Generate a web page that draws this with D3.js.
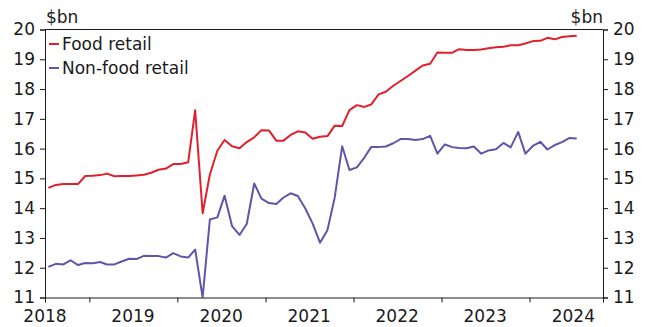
<!DOCTYPE html>
<html>
<head>
<meta charset="utf-8">
<script src="https://cdn.jsdelivr.net/npm/d3@7"></script>
<style>
  html, body { margin: 0; padding: 0; background: #fff; }
  svg { display: block; }
  text { font-family: "DejaVu Sans", sans-serif; fill: #1a1a1a; }
</style>
</head>
<body>
<svg id="chart" width="649" height="327"></svg>
<script>
// Monthly retail sales, $bn, July 2018 to July 2024
const firstMonth = "2018-07";
const foodRetail = [
  14.68, 14.78, 14.81, 14.81, 14.81, 15.08, 15.09, 15.11, 15.16, 15.07, 15.08, 15.08,
  15.10, 15.12, 15.19, 15.29, 15.33, 15.48, 15.48, 15.54, 17.29, 13.83, 15.13, 15.93,
  16.29, 16.08, 16.01, 16.22, 16.38, 16.62, 16.61, 16.26, 16.26, 16.46, 16.58, 16.54,
  16.33, 16.40, 16.42, 16.77, 16.76, 17.29, 17.46, 17.40, 17.48, 17.82, 17.91, 18.11,
  18.27, 18.44, 18.62, 18.79, 18.85, 19.23, 19.22, 19.22, 19.34, 19.31, 19.31, 19.33,
  19.37, 19.40, 19.42, 19.47, 19.47, 19.53, 19.61, 19.62, 19.72, 19.67, 19.75, 19.77,
  19.79
];
const nonFoodRetail = [
  12.03, 12.13, 12.11, 12.25, 12.09, 12.16, 12.15, 12.19, 12.11, 12.11, 12.21, 12.30,
  12.29, 12.40, 12.39, 12.39, 12.34, 12.49, 12.38, 12.34, 12.61, 11.00, 13.62, 13.69,
  14.42, 13.40, 13.10, 13.47, 14.83, 14.32, 14.17, 14.14, 14.35, 14.50, 14.41, 13.99,
  13.49, 12.84, 13.27, 14.36, 16.08, 15.28, 15.37, 15.70, 16.05, 16.05, 16.07, 16.18,
  16.32, 16.32, 16.29, 16.32, 16.43, 15.83, 16.14, 16.05, 16.02, 16.01, 16.07, 15.83,
  15.94, 15.98, 16.19, 16.04, 16.56, 15.83, 16.09, 16.23, 15.97, 16.12, 16.22, 16.36,
  16.34
];
const seriesNames = ["Food retail", "Non-food retail"];
const seriesColors = ["#e2202c", "#5e56a8"];
const yTicks = [11, 12, 13, 14, 15, 16, 17, 18, 19, 20];
const yearLabels = [2018, 2019, 2020, 2021, 2022, 2023, 2024];
const unitLabel = "$bn";

const svg = d3.select("#chart");
const plotLeft = 45, plotRight = 603, plotTop = 29.5, plotBottom = 297.5;

const x = d3.scaleUtc()
  .domain([new Date(Date.UTC(2018, 6, 1)), new Date(Date.UTC(2024, 10, 1))])
  .range([plotLeft, plotRight]);
const y = d3.scaleLinear().domain([11, 20]).range([plotBottom, plotTop]);

// each observation sits in the middle of its month
const start = d3.utcParse("%Y-%m")(firstMonth);
const dateAt = i => d3.utcDay.offset(d3.utcMonth.offset(start, i), 14);

// y axes on both sides
const yLeft = d3.axisLeft(y).tickValues(yTicks).tickSize(5).tickPadding(5);
const yRight = d3.axisRight(y).tickValues(yTicks).tickSize(5).tickPadding(5);
// year boundaries carry ticks, labels sit mid-year
const yearTicks = d3.range(2019, 2025).map(yr => new Date(Date.UTC(yr, 0, 1)));
const xAxis = d3.axisBottom(x).tickValues(yearTicks).tickSize(5).tickFormat("");

function styleAxis(g) {
  g.select(".domain").attr("stroke", "#1a1a1a").attr("stroke-width", 1);
  g.selectAll(".tick line").attr("stroke", "#1a1a1a");
  g.selectAll(".tick text").style("font-size", "17px").attr("fill", "#1a1a1a")
    .style("font-family", '"DejaVu Sans", sans-serif');
}

svg.append("g").attr("transform", `translate(${plotLeft},0)`).call(yLeft).call(styleAxis);
svg.append("g").attr("transform", `translate(${plotRight},0)`).call(yRight).call(styleAxis);
svg.append("g").attr("transform", `translate(0,${plotBottom})`).call(xAxis).call(styleAxis);

// top frame line
svg.append("line")
  .attr("x1", plotLeft).attr("x2", plotRight).attr("y1", plotTop).attr("y2", plotTop)
  .attr("stroke", "#1a1a1a").attr("stroke-width", 1);

svg.append("g").selectAll("text").data(yearLabels).join("text")
  .attr("x", d => x(new Date(Date.UTC(d, 6, 1))))
  .attr("y", 322)
  .attr("text-anchor", "middle")
  .style("font-size", "17px")
  .text(d => d);

svg.append("text").attr("x", 46).attr("y", 23).style("font-size", "17px").text(unitLabel);
svg.append("text").attr("x", 603).attr("y", 23).attr("text-anchor", "end")
  .style("font-size", "17px").text(unitLabel);

const line = d3.line().x((d, i) => x(dateAt(i))).y(d => y(d));
[foodRetail, nonFoodRetail].forEach((vals, k) => {
  svg.append("path").datum(vals)
    .attr("fill", "none")
    .attr("stroke", seriesColors[k])
    .attr("stroke-width", 2)
    .attr("stroke-linejoin", "round")
    .attr("d", line);
});

// legend
const legend = svg.append("g");
seriesNames.forEach((name, k) => {
  const ly = 44 + k * 24;
  legend.append("line")
    .attr("x1", 49).attr("x2", 59).attr("y1", ly).attr("y2", ly)
    .attr("stroke", seriesColors[k]).attr("stroke-width", 2);
  legend.append("text").attr("x", 62).attr("y", ly + 5.5)
    .style("font-size", "17px").text(name);
});
</script>
</body>
</html>
